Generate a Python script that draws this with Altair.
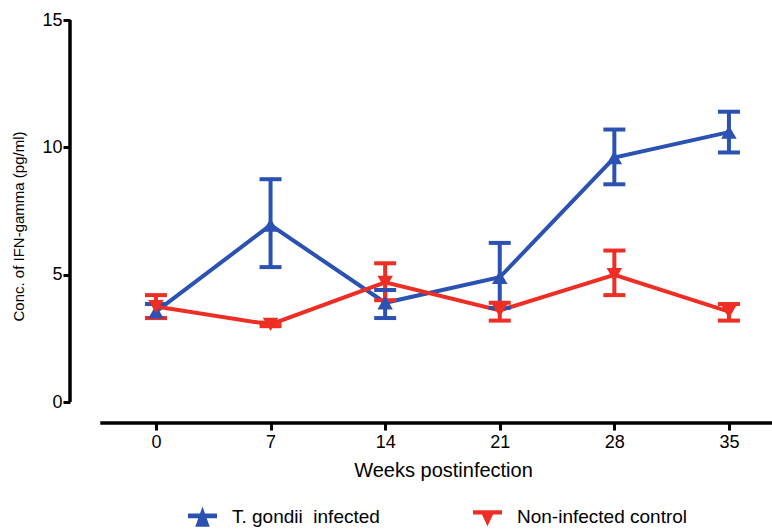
import altair as alt
import pandas as pd

weeks = [0, 7, 14, 21, 28, 35]
series_names = ["T. gondii\u00a0 infected", "Non-infected control"]
infected_mean = [3.55, 6.95, 3.9, 4.9, 9.6, 10.6]
infected_lo = [3.3, 5.3, 3.3, 3.7, 8.55, 9.8]
infected_hi = [3.85, 8.75, 4.4, 6.25, 10.7, 11.4]
control_mean = [3.75, 3.05, 4.7, 3.6, 5.0, 3.55]
control_lo = [3.3, 2.98, 4.0, 3.2, 4.2, 3.2]
control_hi = [4.2, 3.12, 5.45, 3.9, 5.95, 3.85]

y_ticks = [0, 5, 10, 15]
x_domain = [-5.25, 37.63]
y_domain = [-0.82, 15]
x_axis_start = -3.4

colors = ["#2b52b3", "#ee2e24"]
shapes = ["triangle-up", "triangle-down"]
legend_shapes = [
    "M0,-0.7L0.5,0.7L-0.5,0.7Z M-1,-0.22L1,-0.22L1,0.1L-1,0.1Z",
    "M-1,-0.45L1,-0.45L1,-0.15L-1,-0.15Z M-0.45,-0.3L0.45,-0.3L0,0.65Z",
]
FONT = "Liberation Sans"

rows = []
for name, m, lo, hi in [
    (series_names[0], infected_mean, infected_lo, infected_hi),
    (series_names[1], control_mean, control_lo, control_hi),
]:
    for w, a, b, c in zip(weeks, m, lo, hi):
        rows.append({"week": w, "value": a, "lo": b, "hi": c, "series": name})
df = pd.DataFrame(rows)

xs = alt.Scale(domain=x_domain, nice=False, zero=False)
ys = alt.Scale(domain=y_domain, nice=False, zero=False)
cscale = alt.Scale(domain=series_names, range=colors)

shape_expr = "indexof(datum.value, 'gondii') >= 0 ? '%s' : '%s'" % (
    legend_shapes[0], legend_shapes[1])

legend = alt.Legend(
    orient="none", legendX=118, legendY=482,
    direction="horizontal", columns=2, columnPadding=93,
    labelFont=FONT, labelFontSize=19, labelColor="black", labelLimit=400,
    symbolSize=840, symbolStrokeWidth=0, labelOffset=15,
    symbolOpacity=1, symbolFillColor="black", title=None,
    symbolType={"expr": shape_expr},
)
color_enc = alt.Color("series:N", scale=cscale, title=None, legend=legend)

base = alt.Chart(df)

xaxis = alt.Axis(
    values=weeks, domain=False, tickSize=7, tickWidth=3, tickColor="black",
    labelFont=FONT, labelFontSize=18, labelColor="black", labelPadding=3,
    title="Weeks postinfection", titleFont=FONT, titleFontSize=20,
    titleFontWeight="normal", titleColor="black",
    titleX=373, titleY=53, titleBaseline="alphabetic",
    grid=False,
)
yaxis = alt.Axis(
    values=y_ticks, domain=False, tickSize=7, tickWidth=3, tickColor="black",
    labelFont=FONT, labelFontSize=18, labelColor="black", labelPadding=1,
    title="Conc. of IFN-gamma (pg/ml)", titleFont=FONT, titleFontSize=15,
    titleFontWeight="normal", titleColor="black", titlePadding=15, titleY=206,
    grid=False,
)

lines = base.mark_line(strokeWidth=4).encode(
    x=alt.X("week:Q", scale=xs, axis=xaxis),
    y=alt.Y("value:Q", scale=ys, axis=yaxis),
    color=color_enc,
    detail="series:N",
)

err = base.mark_rule(strokeWidth=4).encode(
    x="week:Q", y="lo:Q", y2="hi:Q", color=color_enc,
)
cap_lo = base.mark_tick(orient="horizontal", size=22, thickness=4, opacity=1).encode(
    x="week:Q", y="lo:Q", color=color_enc,
)
cap_hi = base.mark_tick(orient="horizontal", size=22, thickness=4, opacity=1).encode(
    x="week:Q", y="hi:Q", color=color_enc,
)

point_layers = []
for name, shp in zip(series_names, shapes):
    point_layers.append(
        base.transform_filter(alt.datum.series == name).mark_point(
            filled=True, size=240, opacity=1, shape=shp).encode(
            x="week:Q", y="value:Q", color=color_enc,
        )
    )

# axis lines (Prism-style, offset)
yline = alt.Chart(pd.DataFrame({"x": [x_domain[0]], "y0": [y_ticks[0]], "y1": [y_ticks[-1]]})).mark_rule(
    strokeWidth=3.5, color="black").encode(x="x:Q", y="y0:Q", y2="y1:Q")
xline = alt.Chart(pd.DataFrame({"x0": [x_axis_start], "x1": [x_domain[1]], "y": [y_domain[0]]})).mark_rule(
    strokeWidth=3.5, color="black").encode(x="x0:Q", x2="x1:Q", y="y:Q")

chart = alt.layer(lines, err, cap_lo, cap_hi, *point_layers, yline, xline).properties(
    width=702, height=403,
    autosize=alt.AutoSizeParams(type="none"),
    padding={"left": 70, "top": 20, "right": 0, "bottom": 106},
    background="white",
).configure_view(stroke=None)

chart.save("out.html", embed_options={"renderer": "svg", "actions": False})
